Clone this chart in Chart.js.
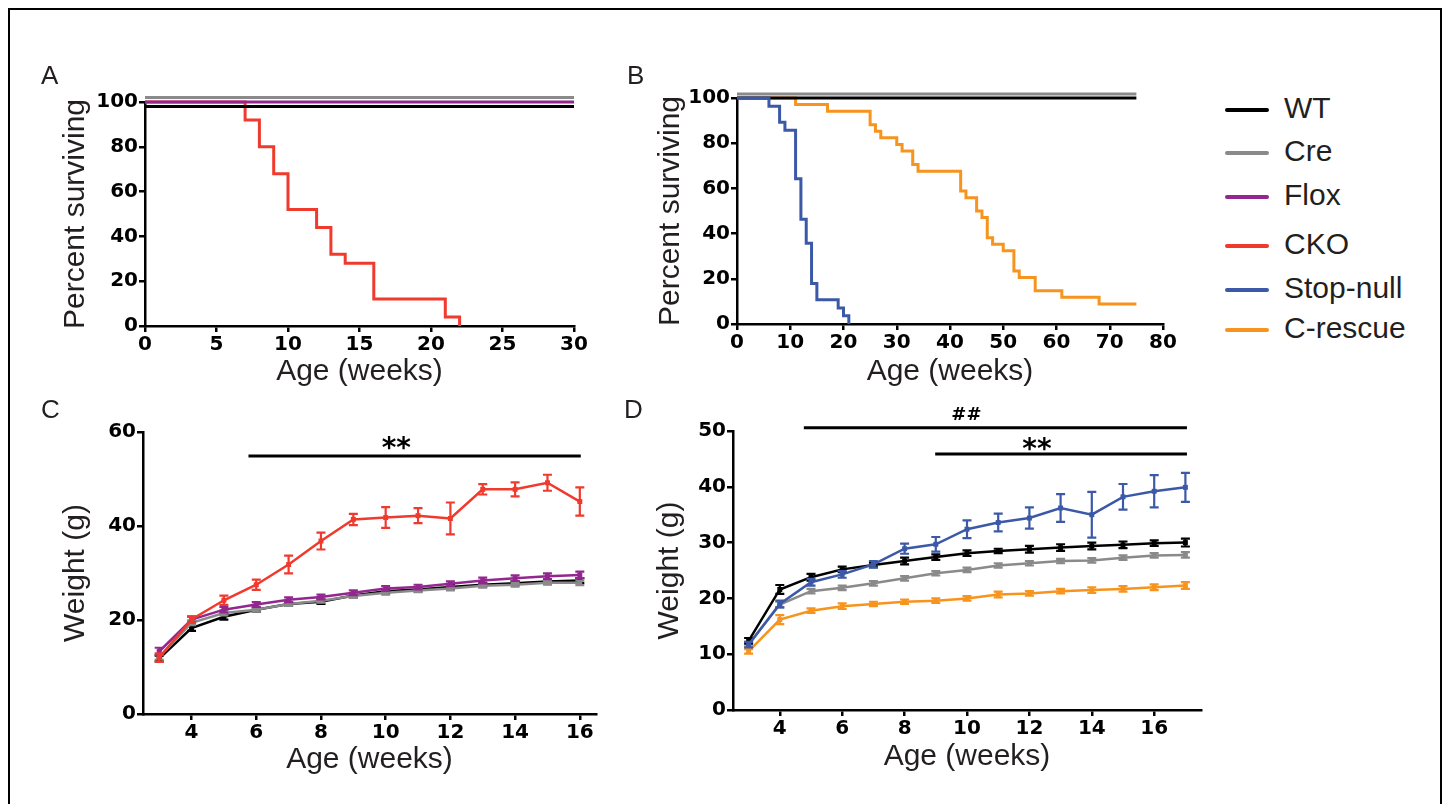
<!DOCTYPE html>
<html>
<head>
<meta charset="utf-8">
<script src="https://cdn.jsdelivr.net/npm/chart.js@4.4.1/dist/chart.umd.min.js"></script>
<style>
html,body{margin:0;padding:0;background:#fff;width:1446px;height:804px;overflow:hidden;position:relative;}
#frame{position:absolute;left:8px;top:8px;width:1434px;height:900px;border:2px solid #000;box-sizing:border-box;}
canvas{position:absolute;}
.letter{position:absolute;font-family:'Liberation Sans',Arial,sans-serif;font-size:26px;line-height:26px;color:#231f20;}
.legline{position:absolute;height:4.5px;border-radius:2.5px;}
.legtext{position:absolute;font-family:'Liberation Sans',Arial,sans-serif;font-size:30px;line-height:30px;color:#231f20;white-space:nowrap;}
</style>
</head>
<body>
<div id="frame"></div>
<canvas id="cA" width="570" height="340" style="left:30px;top:60px"></canvas>
<canvas id="cB" width="570" height="342" style="left:620px;top:58px"></canvas>
<canvas id="cC" width="590" height="390" style="left:30px;top:400px"></canvas>
<canvas id="cD" width="605" height="390" style="left:620px;top:400px"></canvas>
<div class="letter" style="left:41px;top:62px">A</div>
<div class="letter" style="left:627px;top:62px">B</div>
<div class="letter" style="left:41px;top:396px">C</div>
<div class="letter" style="left:624px;top:396px">D</div>
<div id="legend"></div>
<script>
// ---------- DATA ----------
const seriesNames = ['WT','Cre','Flox','CKO','Stop-null','C-rescue'];
const seriesColors = ['#000000','#8a8a8a','#92278f','#ef3a2d','#3c59a8','#f7941d'];

// Panel A: Kaplan-Meier
const survA_ctrlWeeks = [0, 30];
const survA_WT = [100, 100];
const survA_Cre = [100, 100];
const survA_Flox = [100, 100];
const survA_ckoWeeks = [0, 7, 8, 9, 10, 12, 13, 14, 16, 21, 22];
const survA_CKO = [100, 92, 80, 68, 52, 44, 32, 28, 12, 4, 0];
const ticksA_x = [0, 5, 10, 15, 20, 25, 30];
const ticksA_y = [0, 20, 40, 60, 80, 100];

// Panel B: Kaplan-Meier
const survB_ctrlWeeks = [0, 75];
const survB_WT = [100, 100];
const survB_Cre = [100, 100];
const survB_stopWeeks = [0, 6, 8, 9, 11, 12, 13, 14, 15, 19, 20, 21];
const survB_Stop = [100, 96.4, 89.3, 85.7, 64.3, 46.4, 35.7, 17.9, 10.7, 7.1, 3.6, 0];
const survB_rescWeeks = [0, 11, 17, 25, 26, 27, 30, 31, 33, 34, 42, 43, 45, 46, 47, 48, 50, 52, 53, 56, 61, 68, 75];
const survB_Resc = [100, 97.1, 94.1, 88.2, 85.3, 82.4, 79.4, 76.5, 70.6, 67.6, 58.8, 55.9, 50.0, 47.1, 38.2, 35.3, 32.4, 23.5, 20.6, 14.7, 11.8, 8.8, 8.8];
const ticksB_x = [0, 10, 20, 30, 40, 50, 60, 70, 80];
const ticksB_y = [0, 20, 40, 60, 80, 100];

// Panel C: weight
const weeksC = [3, 4, 5, 6, 7, 8, 9, 10, 11, 12, 13, 14, 15, 16];
const wC_WT   = [11.8, 18.3, 20.7, 22.2, 23.4, 23.9, 25.2, 26.1, 26.5, 27.0, 27.5, 27.8, 28.2, 28.4];
const eC_WT   = [0.6, 0.6, 0.6, 0.4, 0.4, 0.5, 0.4, 0.4, 0.4, 0.4, 0.4, 0.4, 0.4, 0.5];
const wC_Cre  = [12.1, 19.4, 21.5, 22.2, 23.4, 24.1, 25.1, 25.8, 26.3, 26.7, 27.3, 27.5, 27.9, 27.9];
const eC_Cre  = [0.5, 0.5, 0.5, 0.4, 0.4, 0.4, 0.4, 0.4, 0.4, 0.4, 0.4, 0.4, 0.4, 0.5];
const wC_Flox = [13.3, 20.1, 22.2, 23.3, 24.3, 24.9, 25.8, 26.7, 27.0, 27.7, 28.4, 28.9, 29.3, 29.6];
const eC_Flox = [0.8, 0.6, 0.6, 0.5, 0.5, 0.5, 0.5, 0.5, 0.5, 0.5, 0.6, 0.6, 0.6, 0.7];
const wC_CKO  = [12.0, 20.1, 24.2, 27.5, 31.8, 36.8, 41.4, 41.8, 42.2, 41.6, 47.8, 47.8, 49.2, 45.2];
const eC_CKO  = [0.9, 0.7, 1.0, 1.1, 1.9, 1.8, 1.2, 2.2, 1.6, 3.4, 1.1, 1.5, 1.7, 3.0];
const ticksC_x = [4, 6, 8, 10, 12, 14, 16];
const ticksC_y = [0, 20, 40, 60];
const sigC_from = [5.76], sigC_to = [16.03], sigC_y = [54.9];
const sigC_text = ['**'], sigC_tx = [10.33], sigC_ty = [57.6];

// Panel D: weight
const weeksD = [3, 4, 5, 6, 7, 8, 9, 10, 11, 12, 13, 14, 15, 16, 17];
const wD_WT   = [12.4, 21.6, 23.8, 25.2, 26.0, 26.7, 27.4, 28.1, 28.5, 28.8, 29.1, 29.4, 29.6, 29.9, 30.0];
const eD_WT   = [0.5, 0.8, 0.6, 0.5, 0.4, 0.6, 0.5, 0.5, 0.4, 0.6, 0.6, 0.6, 0.6, 0.5, 0.7];
const wD_Cre  = [11.8, 18.9, 21.3, 21.9, 22.7, 23.6, 24.5, 25.1, 25.9, 26.3, 26.7, 26.8, 27.3, 27.7, 27.8];
const eD_Cre  = [0.4, 0.5, 0.4, 0.4, 0.4, 0.4, 0.4, 0.4, 0.4, 0.4, 0.4, 0.4, 0.4, 0.4, 0.5];
const wD_Stop = [11.7, 19.0, 22.9, 24.3, 26.1, 28.9, 29.7, 32.4, 33.6, 34.4, 36.2, 35.0, 38.2, 39.2, 39.9];
const eD_Stop = [0.5, 0.6, 0.6, 0.6, 0.6, 0.9, 1.3, 1.6, 1.6, 1.9, 2.5, 4.1, 2.3, 2.9, 2.6];
const wD_Resc = [10.5, 16.2, 17.8, 18.6, 19.0, 19.4, 19.6, 20.0, 20.7, 20.9, 21.3, 21.5, 21.7, 22.0, 22.3];
const eD_Resc = [0.4, 0.8, 0.4, 0.5, 0.4, 0.4, 0.4, 0.4, 0.5, 0.4, 0.4, 0.5, 0.5, 0.5, 0.6];
const ticksD_x = [4, 6, 8, 10, 12, 14, 16];
const ticksD_y = [0, 10, 20, 30, 40, 50];
const sigD_from = [4.77, 8.98], sigD_to = [17.05, 17.05], sigD_y = [50.6, 45.9];
const sigD_text = ['##', '**'], sigD_tx = [9.98, 12.24], sigD_ty = [53.1, 47.6];

// ---------- HELPERS ----------
const pts = (xs, ys) => xs.map((x, i) => ({x: x, y: ys[i]}));
const TICK_FONT = {family: "'DejaVu Sans', sans-serif", size: 20, weight: 'bold'};
const TITLE_FONT = {family: "'Liberation Sans', Arial, sans-serif", size: 30, weight: 'normal', lineHeight: 1.2};

const shiftPlugin = {
  id: 'shiftPlugin',
  beforeDatasetDraw(chart, args) {
    const s = chart.data.datasets[args.index].yShift || 0;
    chart.ctx.save();
    chart.ctx.translate(0, s);
  },
  afterDatasetDraw(chart, args) { chart.ctx.restore(); }
};

const errorBarPlugin = {
  id: 'errorBarPlugin',
  afterDatasetDraw(chart, args) {
    const ds = chart.data.datasets[args.index];
    if (!ds.errors) return;
    const ys = chart.scales.y, ctx = chart.ctx;
    ctx.save();
    ctx.strokeStyle = ds.borderColor;
    ctx.lineWidth = 2.2;
    args.meta.data.forEach((p, i) => {
      const v = ds.data[i].y, e = ds.errors[i];
      const y1 = ys.getPixelForValue(v + e), y2 = ys.getPixelForValue(v - e);
      const c = 4.5;
      ctx.beginPath();
      ctx.moveTo(p.x, y1); ctx.lineTo(p.x, y2);
      ctx.moveTo(p.x - c, y1); ctx.lineTo(p.x + c, y1);
      ctx.moveTo(p.x - c, y2); ctx.lineTo(p.x + c, y2);
      ctx.stroke();
    });
    ctx.restore();
  }
};

const sigTextPlugin = {
  id: 'sigText',
  afterDatasetsDraw(chart, args, opts) {
    const items = opts.items || [];
    const ctx = chart.ctx;
    items.forEach(it => {
      ctx.save();
      ctx.font = it.font;
      ctx.fillStyle = '#000';
      ctx.textAlign = 'center';
      ctx.textBaseline = 'alphabetic';
      const m = ctx.measureText(it.text);
      const cx = chart.scales.x.getPixelForValue(it.x);
      const cy = chart.scales.y.getPixelForValue(it.y);
      const base = cy + (m.actualBoundingBoxAscent - m.actualBoundingBoxDescent) / 2;
      ctx.fillText(it.text, cx, base);
      ctx.restore();
    });
  }
};

function axis(opts) {
  return {
    type: 'linear',
    min: opts.min, max: opts.max,
    afterBuildTicks: s => { s.ticks = opts.ticks.map(v => ({value: v})); },
    afterFit: opts.fit,
    grid: {display: true, drawOnChartArea: false, drawTicks: true, tickLength: 6, tickWidth: 2.5, tickColor: '#000', color: '#000', lineWidth: 2.5},
    border: {display: true, color: '#000', width: 2.5},
    ticks: {color: '#000', font: TICK_FONT, padding: 1, maxRotation: 0, autoSkip: false},
    title: {display: true, text: opts.title, font: TITLE_FONT, color: '#231f20', padding: opts.titlePad}
  };
}

function makeChart(id, box, area, xo, yo, datasets, sigItems) {
  const pTop = area.t - box.y, pRight = box.x + box.w - area.r;
  const yW = area.l - box.x, xH = box.y + box.h - area.b;
  return new Chart(document.getElementById(id), {
    type: 'line',
    data: {datasets: datasets},
    options: {
      responsive: false, animation: false, events: [],
      layout: {padding: {left: 0, top: pTop, right: pRight, bottom: 0}},
      elements: {line: {tension: 0}},
      plugins: {legend: {display: false}, tooltip: {enabled: false}, sigText: {items: sigItems || []}},
      scales: {
        x: axis(Object.assign({}, xo, {fit: s => { s.height = xH; }})),
        y: axis(Object.assign({}, yo, {fit: s => { s.width = yW; }}))
      }
    },
    plugins: [shiftPlugin, errorBarPlugin, sigTextPlugin]
  });
}

function kmSet(xs, ys, color, order, shift) {
  return {data: pts(xs, ys), borderColor: color, backgroundColor: color, borderWidth: 3,
          pointRadius: 0, stepped: 'before', clip: false, order: order, yShift: shift || 0,
          borderCapStyle: 'butt'};
}
function wSet(xs, ys, errs, color, order) {
  return {data: pts(xs, ys), errors: errs, borderColor: color, backgroundColor: color, borderWidth: 2.5,
          pointRadius: 3.5, pointStyle: 'rect', pointBorderWidth: 0, clip: false, order: order};
}
function sigLines(from, to, y, order) {
  return from.map((f, i) => ({data: [{x: f, y: y[i]}, {x: to[i], y: y[i]}], borderColor: '#000', borderWidth: 3,
          pointRadius: 0, clip: false, order: order}));
}
function sigItems(texts, xs, ys, fonts) {
  return texts.map((t, i) => ({text: t, x: xs[i], y: ys[i], font: fonts[i]}));
}

// ---------- PANEL A ----------
makeChart('cA', {x: 30, y: 60, w: 570, h: 340}, {l: 145, t: 102, r: 574, b: 326},
  {min: 0, max: 30, ticks: ticksA_x, title: 'Age (weeks)', titlePad: {top: 0, bottom: 10}},
  {min: 0, max: 100, ticks: ticksA_y, title: 'Percent surviving', titlePad: {top: 28, bottom: 0}},
  [
    kmSet(survA_ctrlWeeks, survA_WT, seriesColors[0], 1, 4.5),
    kmSet(survA_ctrlWeeks, survA_Flox, seriesColors[2], 2, 0),
    kmSet(survA_ctrlWeeks, survA_Cre, seriesColors[1], 3, -4.5),
    kmSet(survA_ckoWeeks, survA_CKO, seriesColors[3], 9, 0)
  ]);

// ---------- PANEL B ----------
makeChart('cB', {x: 620, y: 58, w: 570, h: 342}, {l: 737, t: 98, r: 1163, b: 324},
  {min: 0, max: 80, ticks: ticksB_x, title: 'Age (weeks)', titlePad: {top: 0, bottom: 10}},
  {min: 0, max: 100, ticks: ticksB_y, title: 'Percent surviving', titlePad: {top: 33, bottom: 0}},
  [
    kmSet(survB_stopWeeks, survB_Stop, seriesColors[4], 1, 0),
    kmSet(survB_ctrlWeeks, survB_WT, seriesColors[0], 2, 0),
    kmSet(survB_ctrlWeeks, survB_Cre, seriesColors[1], 3, -4),
    kmSet(survB_rescWeeks, survB_Resc, seriesColors[5], 9, 0)
  ]);

// ---------- PANEL C ----------
const starFont = "bold 28px 'DejaVu Sans', sans-serif";
const hashFont = "bold 18px 'DejaVu Sans', sans-serif";
makeChart('cC', {x: 30, y: 400, w: 590, h: 390}, {l: 143, t: 432, r: 596, b: 714},
  {min: 2.5, max: 16.5, ticks: ticksC_x, title: 'Age (weeks)', titlePad: {top: 0, bottom: 12}},
  {min: 0, max: 60, ticks: ticksC_y, title: 'Weight (g)', titlePad: {top: 28, bottom: 0}},
  [
    wSet(weeksC, wC_CKO, eC_CKO, seriesColors[3], 1),
    wSet(weeksC, wC_Flox, eC_Flox, seriesColors[2], 2),
    wSet(weeksC, wC_Cre, eC_Cre, seriesColors[1], 3),
    wSet(weeksC, wC_WT, eC_WT, seriesColors[0], 4)
  ].concat(sigLines(sigC_from, sigC_to, sigC_y, 0)),
  sigItems(sigC_text, sigC_tx, sigC_ty, [starFont]));

// ---------- PANEL D ----------
makeChart('cD', {x: 620, y: 400, w: 605, h: 390}, {l: 733, t: 431, r: 1201, b: 710},
  {min: 2.5, max: 17.5, ticks: ticksD_x, title: 'Age (weeks)', titlePad: {top: 0, bottom: 15}},
  {min: 0, max: 50, ticks: ticksD_y, title: 'Weight (g)', titlePad: {top: 32, bottom: 0}},
  [
    wSet(weeksD, wD_Stop, eD_Stop, seriesColors[4], 1),
    wSet(weeksD, wD_WT, eD_WT, seriesColors[0], 2),
    wSet(weeksD, wD_Cre, eD_Cre, seriesColors[1], 3),
    wSet(weeksD, wD_Resc, eD_Resc, seriesColors[5], 4)
  ].concat(sigLines(sigD_from, sigD_to, sigD_y, 0)),
  sigItems(sigD_text, sigD_tx, sigD_ty, [hashFont, starFont]));

// ---------- LEGEND ----------
const legendLineY = [110, 153, 197, 246, 290, 330];
const leg = document.getElementById('legend');
seriesNames.forEach((name, i) => {
  const ln = document.createElement('div');
  ln.className = 'legline';
  ln.style.left = '1225px';
  ln.style.width = '44px';
  ln.style.top = (legendLineY[i] - 2.25) + 'px';
  ln.style.background = seriesColors[i];
  leg.appendChild(ln);
  const tx = document.createElement('div');
  tx.className = 'legtext';
  tx.style.left = '1284px';
  tx.style.top = (legendLineY[i] - 2 - 14.7) + 'px';
  tx.textContent = name;
  leg.appendChild(tx);
});
</script>
</body>
</html>
